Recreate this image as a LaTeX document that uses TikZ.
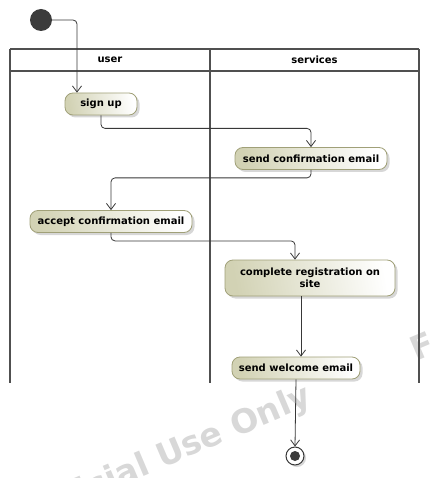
\documentclass[tikz,border=0pt]{standalone}
\usepackage{fontspec}
\setmainfont{DejaVu Sans}
\newfontfamily\wmfont{DejaVu Sans}
\usetikzlibrary{arrows.meta,shadows,calc}
\definecolor{lanec}{RGB}{80,80,80}
\definecolor{linec}{RGB}{56,56,56}
\definecolor{actborder}{RGB}{160,160,120}
\definecolor{actleft}{RGB}{210,210,180}
\definecolor{wmc}{RGB}{216,216,216}
\definecolor{dotc}{RGB}{60,60,60}
\tikzset{
  lane/.style={draw=lanec, line width=2pt},
  hdr/.style={font=\bfseries\fontsize{10}{12}\selectfont, text=black},
  act/.style={draw=actborder, line width=0.8pt, rounded corners=8pt,
    left color=actleft, right color=white, shading angle=100,
    font=\bfseries\fontsize{10}{12.5}\selectfont, align=center,
    inner sep=0pt, minimum height=22pt,
    drop shadow={shadow xshift=2.5pt, shadow yshift=-2.5pt, fill=gray!70, opacity=0.45}},
  flow/.style={draw=linec, line width=0.8pt, rounded corners=4pt,
    -{Straight Barb[length=6pt,width=9pt,line width=0.8pt]}},
  wm/.style={text=wmc, font=\wmfont\bfseries\fontsize{33}{38}\selectfont, rotate=23, inner sep=0pt},
}
\begin{document}
\begin{tikzpicture}[x=1pt,y=-1pt]
\useasboundingbox (0,0) rectangle (429,478);
\begin{scope}
\clip (0,0) rectangle (429,478);
\node[wm, anchor=base east] (wm1) at (314,404) {For Official Use Only};
\node[wm, anchor=base west] (wm2) at (416,362) {For Official Use Only};
\end{scope}
% swimlanes
\draw[lane] (10,49) -- (419,49);
\draw[lane] (10,71) -- (419,71);
\draw[lane] (10,49) -- (10,383);
\draw[lane] (210,49) -- (210,383);
\draw[lane] (419,49) -- (419,383);
\node[hdr] (huser) at (110,59.5) {user};
\node[hdr] (hserv) at (314.5,59.5) {services};
% start / end
\node[circle, fill=dotc, minimum size=22pt, inner sep=0pt] (start) at (41,20) {};
\node[circle, draw=linec, line width=1pt, fill=white, minimum size=18pt, inner sep=0pt,
  drop shadow={shadow xshift=2pt, shadow yshift=-2pt, fill=gray!70, opacity=0.45}] (end) at (295,456) {};
\node[circle, fill=dotc, minimum size=10pt, inner sep=0pt] (endin) at (end.center) {};
% activities
\node[act, minimum width=72pt] (signup) at (101,104) {sign up};
\node[act, minimum width=152pt] (sendconf) at (311,158.5) {send confirmation email};
\node[act, minimum width=162pt] (accept) at (111,221.5) {accept confirmation email};
\node[act, minimum width=170pt, minimum height=36pt] (complete) at (310,278) {complete registration on\\site};
\node[act, minimum width=128pt] (welcome) at (296,368) {send welcome email};
% flows
\draw[flow] (start.east) -| ([xshift=-24pt]signup.north);
\draw[flow] (signup.south) -- ++(0,13) -| (sendconf.north);
\draw[flow] (sendconf.south) -- ++(0,8) -| (accept.north);
\draw[flow] (accept.south) -- ++(0,8) -| ([xshift=-15pt]complete.north);
\draw[flow] ([xshift=-9pt]complete.south) -- ([xshift=5pt]welcome.north);
\draw[flow] (welcome.south) -- (end.north);
\end{tikzpicture}
\end{document}
